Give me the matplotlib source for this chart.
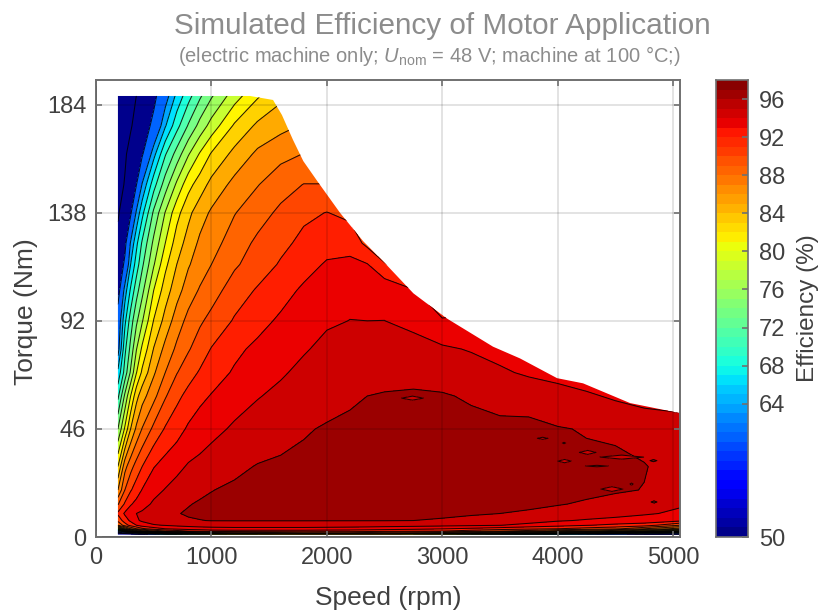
import numpy as np
import matplotlib
matplotlib.use("Agg")
import matplotlib.pyplot as plt
from matplotlib.patches import Polygon

plt.rcParams['font.family'] = ['Liberation Sans', 'DejaVu Sans']
plt.rcParams['mathtext.fontset'] = 'custom'
plt.rcParams['mathtext.rm'] = 'Liberation Sans'
plt.rcParams['mathtext.it'] = 'Liberation Sans:italic'

speed = [190, 250, 300, 350, 400, 500, 600, 700, 800, 900, 1000, 1200, 1400, 1600, 1800,
         2000, 2200, 2350, 2500, 2750, 3000, 3250, 3500, 3750, 4000, 4250, 4500, 4750, 5060]
torque = [0.8, 1.6, 2.5, 3.5, 5, 7, 10, 14, 20, 30, 46, 60, 70, 80, 92, 105, 116, 125, 138, 150, 163, 175, 188]

# efficiency, one row per torque value
eff = [
    [40, 40, 42, 45, 48, 52, 58, 64, 68, 70, 72, 75, 76, 78, 78, 78, 78, 78, 78, 76, 74, 70, 66, 62, 58, 55, 52, 49, 46],
    [50, 52, 55, 60, 64, 70, 75, 78, 80, 82, 83, 85, 86, 86.5, 87, 87, 87, 86.5, 86, 85, 84, 82, 80, 78, 75, 72, 68, 64, 60],
    [62, 70, 76, 80, 83, 86, 88, 89, 90, 90.5, 91, 91.2, 91.2, 91.2, 91.2, 91, 91, 90.8, 90.6, 90.3, 90, 89, 88, 87, 85, 84, 82, 79, 74],
    [75, 82, 86, 88, 89.5, 91, 92, 92.5, 92.9, 93, 93.2, 93.3, 93.3, 93.3, 93.3, 93.2, 93.1, 93, 92.8, 92.5, 92.1, 91.6, 91, 90.5, 90, 89.2, 88.5, 86, 83],
    [86, 89, 90.7, 92, 93, 93.8, 94.1, 94.4, 94.6, 94.9, 95, 95.2, 95.2, 95.2, 95.2, 95.1, 95, 94.9, 94.8, 94.7, 94.5, 94.3, 94.05, 93.3, 92.7, 92.1, 91.5, 91, 88],
    [88.5, 91, 92.4, 93.7, 94.3, 95, 95.3, 95.6, 95.8, 95.95, 96.05, 96.05, 96.05, 96.05, 96.05, 96.05, 96.05, 96.05, 96.05, 96, 95.9, 95.75, 95.5, 95, 94.2, 93.8, 93.5, 93.2, 92.5],
    [90.4, 92.3, 93.2, 94, 94.3, 94.9, 95.4, 95.9, 96.2, 96.3, 96.3, 96.3, 96.3, 96.3, 96.3, 96.3, 96.3, 96.3, 96.3, 96.3, 96.2, 96.1, 96, 95.8, 95.4, 95, 94.6, 94.2, 93.7],
    [87.8, 90.3, 91.8, 92.6, 93.3, 94.3, 94.9, 95.4, 95.9, 96.2, 96.3, 96.4, 96.5, 96.5, 96.5, 96.5, 96.5, 96.5, 96.5, 96.5, 96.5, 96.45, 96.4, 96.3, 96.1, 95.8, 95.4, 94.9, 94.2],
    [84, 88, 89.8, 91, 92.1, 93.4, 94.1, 94.7, 95.2, 95.6, 95.95, 96.3, 96.5, 96.6, 96.6, 96.6, 96.6, 96.6, 96.6, 96.6, 96.6, 96.6, 96.6, 96.6, 96.5, 96.4, 96.2, 95.95, 95.4],
    [80, 85.3, 87.3, 88.8, 90, 91.9, 92.8, 93.5, 94.2, 94.6, 95, 95.6, 96.1, 96.3, 96.5, 96.6, 96.7, 96.7, 96.7, 96.7, 96.7, 96.7, 96.7, 96.6, 96.5, 96.3, 96.25, 96.1, 95.2],
    [74, 78.3, 82, 84.4, 86.1, 88.5, 90.2, 91.2, 92.3, 92.8, 93.4, 94.3, 94.8, 95.3, 95.8, 96.2, 96.4, 96.5, 96.6, 96.6, 96.6, 96.5, 96.4, 96.4, 96.1, 95.9, 95.8, 95.2, 94.6],
    [69.5, 74.4, 78, 81.3, 83.2, 85.4, 87.8, 89.5, 90.6, 91.6, 92.1, 93.1, 93.9, 94.4, 94.8, 95.2, 95.7, 96, 96.15, 96.25, 96.15, 95.8, 95.4, 95.3, 94.8, 94.3, 93.7, 93.3, 93.4],
    [66.5, 70.8, 74.3, 77.9, 80.4, 83.7, 86, 87.9, 89.2, 90.2, 91.2, 92.2, 93, 93.8, 94.4, 94.9, 95.1, 95.2, 95.3, 95.4, 95.2, 94.9, 94.3, 93.7, 93.3, 92.8, 92.5, 92.5, 92.5],
    [63, 69.5, 72.6, 75.9, 78.4, 82.1, 84.6, 86.4, 87.8, 89, 90.1, 91.6, 92.4, 93.2, 93.85, 94.4, 94.7, 94.8, 94.8, 94.7, 94.3, 93.85, 93.3, 92.8, 92.5, 92.5, 92.5, 92.5, 92.5],
    [62, 67.5, 71, 73.6, 75.8, 80.1, 82.7, 85, 86.6, 87.7, 88.6, 90.2, 91.4, 92.3, 93, 93.8, 94.02, 94, 94.01, 93.5, 92.2, 92.5, 92.5, 92.5, 92.5, 92.5, 92.5, 92.5, 92.5],
    [58.3, 65, 68.3, 71.2, 73.4, 78, 81, 83.2, 85, 86.2, 87.1, 89, 90.2, 91.3, 92.3, 93, 93.6, 93.7, 93.4, 92.2, 90, 90, 90, 90, 90, 90, 90, 90, 90],
    [57, 60.7, 66, 68.9, 71.6, 75.8, 79.5, 82, 83.8, 85, 86, 87.7, 89, 90.2, 91.3, 92.2, 92.5, 92.1, 90.3, 87, 87, 87, 87, 87, 87, 87, 87, 87, 87],
    [56, 59, 64.3, 67.5, 70.3, 74.5, 78, 81, 82.8, 84.4, 85.2, 87, 88.4, 89.5, 90.5, 91.3, 91.2, 89.5, 87, 85, 85, 85, 85, 85, 85, 85, 85, 85, 85],
    [54.6, 56.9, 59.5, 64.4, 67.4, 72.4, 76.1, 79.3, 81.5, 83.1, 84.3, 85.9, 87.2, 88.4, 89.6, 90.05, 89.5, 88, 86, 84, 84, 84, 84, 84, 84, 84, 84, 84, 84],
    [53.8, 55.2, 57.6, 59.9, 64.2, 69.2, 73, 76.4, 79.3, 81, 82.6, 84.6, 85.9, 87.2, 88.05, 88.05, 87.5, 86, 85, 84, 84, 84, 84, 84, 84, 84, 84, 84, 84],
    [53.5, 54.6, 56, 57.8, 59.6, 65.3, 69.8, 72.8, 75.8, 78.2, 80.2, 82.6, 84.4, 85.4, 86.05, 85.8, 85, 84.5, 84, 84, 84, 84, 84, 84, 84, 84, 84, 84, 84],
    [52, 53.3, 54.7, 56, 57.8, 61, 65.8, 69.3, 72.2, 74.7, 76.8, 80.3, 82.4, 83.4, 84.2, 84.5, 84.5, 84.3, 84, 84, 84, 84, 84, 84, 84, 84, 84, 84, 84],
    [51, 52.5, 54, 55, 56.3, 59, 62.8, 66.5, 69.2, 71.6, 73.7, 77, 79.7, 81.5, 83, 83, 83, 83, 83, 83, 83, 83, 83, 83, 83, 83, 83, 83, 83],
]

# torque limit of the machine
limit_speed = [190, 1334, 1534, 1611, 1707, 1796, 1924, 2114, 2313, 2504, 2750, 3040, 3440, 3674, 3995, 4220, 4627, 5060, 5060, 190]
limit_torque = [187.7, 187.7, 186, 179.6, 169, 160, 151, 138, 126, 116.5, 103.7, 93, 81, 76, 67.6, 65.4, 57, 52.7, 1, 1]

levels = [0, 50, 55, 60, 64, 66, 68, 70, 72, 74, 76, 78, 80, 82, 84, 86, 88, 90, 92, 94, 96, 98]
band_colors = ['#00008c', '#00008c', '#00008c', '#0064ff', '#00a5ff', '#00e1ff', '#1effdc', '#50ffaf',
               '#78ff87', '#a0ff5f', '#c8ff32', '#fff500', '#ffd200', '#ffaa00', '#ff8200', '#ff6400',
               '#ff4600', '#ff1e00', '#eb0000', '#cd0000', '#9b0000']

# small loops of the 96 % line in the right part of the map
loop_speed = [2742, 3870, 4055, 4260, 4060, 4340, 4640, 4470, 4555, 4830, 4835]
loop_torque = [59.1, 42, 40, 36, 32.3, 30.2, 22.5, 20.4, 34, 32.5, 14.9]
loop_dspeed = [95, 46, 15, 72, 58, 100, 15, 95, 190, 30, 26]
loop_dtorque = [0.85, 0.45, 0.3, 0.85, 0.7, 0.3, 0.45, 1, 0.85, 0.45, 0.45]
loop_centre = [95, 95, 95, 95, 95, 95, 95, 95, 95, 97, 97]

cb_ticks = [50, 64, 68, 72, 76, 80, 84, 88, 92, 96]
x_ticks = [0, 1000, 2000, 3000, 4000, 5000]
y_ticks = [0, 46, 92, 138, 184]

W, H = 824.0, 616.0
text_col = '#404040'
edge_col = '#707070'

fig = plt.figure(figsize=(8.24, 6.16), dpi=100)
ax = fig.add_axes([96 / W, (H - 537) / H, 584 / W, 457 / H])

limit = Polygon(np.column_stack([limit_speed, limit_torque]), closed=True, transform=ax.transData,
                facecolor='none', edgecolor='none')
ax.add_patch(limit)

cf = ax.contourf(speed, torque, eff, levels=levels, colors=band_colors, zorder=1)
cl = ax.contour(speed, torque, eff, levels=levels[1:-1], colors='k', linewidths=0.75, alpha=0.85, zorder=2)
cf.set_clip_path(limit)
cl.set_clip_path(limit)

for s, t, ds, dt, c in zip(loop_speed, loop_torque, loop_dspeed, loop_dtorque, loop_centre):
    xs = [s - 2 * ds, s, s + 2 * ds]
    ys = [t - 2 * dt, t, t + 2 * dt]
    outer = 192 - c
    zs = [[outer, outer, outer], [outer, c, outer], [outer, outer, outer]]
    fill_levels = [94, 96] if c < 96 else [96, 98]
    fill_color = '#cd0000' if c < 96 else '#9b0000'
    ax.contourf(xs, ys, zs, levels=fill_levels, colors=[fill_color], zorder=2)
    ax.contour(xs, ys, zs, levels=[96], colors='k', linewidths=0.75, alpha=0.85, zorder=3)

ax.set_xlim(0, 5060)
ax.set_ylim(0, 194.5)
ax.set_xticks(x_ticks)
ax.set_yticks(y_ticks)
ax.grid(True, color='k', alpha=0.13, linewidth=1.2, zorder=4)
ax.set_axisbelow(False)
ax.tick_params(direction='in', length=4, width=1.2, color=edge_col, top=True, right=True,
               labelsize=17, labelcolor=text_col, pad=7)
for sp in ax.spines.values():
    sp.set_color(edge_col)
    sp.set_linewidth(1.4)

# colour bar, one step per percent
cax = fig.add_axes([716 / W, (H - 537) / H, 32 / W, 457 / H])
steps = np.arange(50, 99)
cax.pcolormesh([0, 1], steps, np.array([(steps[:-1] + 0.5)]).T, cmap='jet', vmin=50, vmax=98, shading='flat')
cax.set_xticks([])
cax.set_ylim(50, 98)
cax.set_yticks(cb_ticks)
cax.yaxis.tick_right()
cax.tick_params(direction='in', length=4, width=1.2, color=edge_col, labelsize=17,
                labelcolor=text_col, pad=8)
for sp in cax.spines.values():
    sp.set_color(edge_col)
    sp.set_linewidth(1.2)

fig.text(388 / W, 1 - 598 / H, 'Speed (rpm)', ha='center', va='center', fontsize=19, color=text_col)
fig.text(26 / W, 1 - 312 / H, 'Torque (Nm)', rotation=90, ha='center', va='center', fontsize=19, color=text_col)
fig.text(808 / W, 1 - 308 / H, 'Efficiency (%)', rotation=90, ha='center', va='center',
         fontsize=17.5, color=text_col)
fig.text(442 / W, 1 - 26 / H, 'Simulated Efficiency of Motor Application', ha='center', va='center',
         fontsize=21.4, color='#8c8c8c')
fig.text(429 / W, 1 - 56 / H, r'(electric machine only; $U_{\mathrm{nom}}$ = 48 V; machine at 100 °C;)',
         ha='center', va='center', fontsize=14.5, color='#8c8c8c')

fig.savefig('out.png', dpi=100)
